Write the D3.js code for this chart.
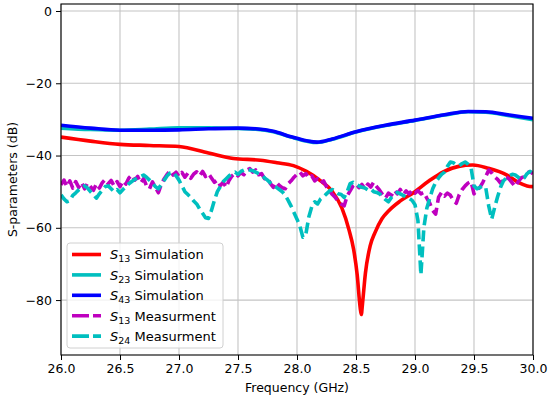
<!DOCTYPE html>
<html><head><meta charset="utf-8">
<script src="https://cdn.jsdelivr.net/npm/d3@7"></script>
<style>body{margin:0;background:#fff}text{font-family:"DejaVu Sans",sans-serif}</style>
</head><body><svg id="c" width="550" height="399"></svg>
<script>
// ---- data ----
const xTicks = [26.0, 26.5, 27.0, 27.5, 28.0, 28.5, 29.0, 29.5, 30.0];
const yTicks = [0, -20, -40, -60, -80];

const simFreqS13 = [26.0,26.25,26.5,26.75,27.0,27.25,27.46,27.69,27.83,27.97,28.08,28.2,28.3,28.38,28.44,28.48,28.51,28.535,28.545,28.555,28.58,28.62,28.66,28.72,28.78,28.87,28.99,29.12,29.24,29.37,29.49,29.62,29.78,29.88,29.95,30.0];
const simS13 = [-34.9,-36.0,-36.9,-37.2,-37.5,-39.3,-40.8,-41.3,-42.0,-42.8,-44.4,-47.0,-50.0,-54.5,-60.5,-66,-73,-82,-84,-81,-72.5,-65,-61.4,-57.5,-55.2,-52.7,-50.2,-47.0,-44.5,-43.0,-42.6,-43.5,-45.4,-47.5,-48.4,-48.6];

const simFreq = [26.0,26.25,26.5,26.75,27.0,27.25,27.5,27.65,27.8,27.95,28.08,28.17,28.3,28.5,28.75,29.0,29.25,29.45,29.6,29.8,30.0];
const simS23 = [-32.4,-32.8,-33.0,-32.7,-32.3,-32.3,-32.5,-32.7,-33.4,-34.9,-36.0,-36.4,-35.5,-33.5,-31.7,-30.3,-28.8,-27.9,-28.0,-29.0,-30.1];
const simS43 = [-31.6,-32.4,-33.0,-33.0,-32.9,-32.6,-32.4,-32.6,-33.3,-34.8,-35.9,-36.3,-35.4,-33.4,-31.6,-30.2,-28.7,-27.8,-27.9,-28.8,-29.7];

const measFreq = [
 26.000,26.025,26.050,26.075,26.100,26.125,26.150,26.175,26.200,26.225,
 26.250,26.275,26.300,26.325,26.350,26.375,26.400,26.425,26.450,26.475,
 26.500,26.525,26.550,26.575,26.600,26.625,26.650,26.675,26.700,26.725,
 26.750,26.775,26.800,26.825,26.850,26.875,26.900,26.925,26.950,26.975,
 27.000,27.025,27.050,27.075,27.100,27.125,27.150,27.175,27.200,27.225,
 27.250,27.275,27.300,27.325,27.350,27.375,27.400,27.425,27.450,27.475,
 27.500,27.525,27.550,27.575,27.600,27.625,27.650,27.675,27.700,27.725,
 27.750,27.775,27.800,27.825,27.850,27.875,27.900,27.925,27.950,27.975,
 28.000,28.025,28.050,28.075,28.100,28.125,28.150,28.175,28.200,28.225,
 28.250,28.275,28.300,28.325,28.350,28.375,28.400,28.425,28.450,28.475,
 28.500,28.525,28.550,28.575,28.600,28.625,28.650,28.675,28.700,28.725,
 28.750,28.775,28.800,28.825,28.850,28.875,28.900,28.925,28.950,28.975,
 29.000,29.025,29.050,29.075,29.100,29.125,29.150,29.175,29.200,29.225,
 29.250,29.275,29.300,29.325,29.350,29.375,29.400,29.425,29.450,29.475,
 29.500,29.525,29.550,29.575,29.600,29.625,29.650,29.675,29.700,29.725,
 29.750,29.775,29.800,29.825,29.850,29.875,29.900,29.925,29.950,29.975,
 30.000];
const measS13 = [
 -48.1,-46.8,-48.6,-47.0,-49.0,-47.2,-48.8,-47.4,-49.2,-47.6,
 -48.6,-49.6,-47.8,-49.0,-47.5,-46.6,-47.8,-46.9,-48.4,-47.2,
 -48.6,-47.0,-47.9,-46.2,-45.4,-46.8,-45.8,-47.6,-46.4,-48.4,
 -49.2,-47.3,-48.8,-50.3,-48.0,-46.4,-45.2,-44.2,-45.4,-44.6,
 -45.8,-44.7,-46.0,-44.9,-46.3,-45.1,-44.5,-45.6,-44.4,-45.8,
 -45.0,-46.2,-47.4,-46.8,-48.3,-47.4,-48.8,-46.8,-45.6,-44.9,
 -45.6,-44.7,-45.3,-44.0,-43.6,-44.6,-44.0,-45.3,-45.0,-46.4,
 -46.0,-47.8,-48.8,-47.4,-48.3,-48.9,-49.2,-47.8,-47.0,-46.0,
 -45.2,-44.6,-45.6,-45.0,-46.2,-45.6,-47.0,-46.4,-47.6,-47.0,
 -48.6,-49.8,-50.8,-51.6,-52.8,-53.4,-53.9,-51.2,-49.8,-48.4,
 -47.8,-48.9,-48.0,-49.2,-47.9,-48.7,-47.4,-48.6,-49.6,-50.8,
 -51.8,-50.4,-51.0,-49.6,-50.6,-49.4,-50.8,-49.8,-50.6,-49.6,
 -50.4,-49.7,-50.6,-50.2,-51.8,-53.2,-55.2,-56.2,-51.5,-50.2,
 -51.2,-50.4,-51.0,-52.4,-53.2,-50.8,-49.4,-48.4,-47.6,-47.2,
 -50.6,-49.6,-48.8,-47.4,-45.8,-44.0,-44.8,-45.9,-46.6,-47.6,
 -46.8,-45.9,-46.6,-47.6,-48.6,-47.2,-46.2,-45.8,-44.8,-44.5,
 -45.0];
const measS24 = [
 -50.9,-52.0,-52.8,-52.5,-51.0,-50.3,-49.5,-48.8,-48.4,-49.0,
 -50.0,-50.8,-51.8,-50.6,-49.6,-48.6,-48.4,-49.2,-50.0,-49.4,
 -50.3,-49.4,-48.6,-47.8,-47.2,-46.6,-46.2,-45.8,-45.4,-46.0,
 -46.8,-47.6,-48.6,-49.2,-48.0,-46.8,-45.6,-44.8,-44.6,-45.6,
 -46.8,-48.4,-50.0,-50.8,-51.6,-52.6,-53.4,-54.8,-56.0,-57.2,
 -57.4,-55.2,-52.4,-50.0,-48.6,-47.2,-46.4,-45.6,-45.0,-44.6,
 -45.2,-44.4,-44.0,-43.8,-44.0,-44.2,-44.6,-45.0,-45.4,-46.2,
 -46.8,-47.6,-48.2,-48.8,-49.4,-50.0,-51.0,-52.4,-54.0,-55.8,
 -57.6,-59.6,-62.6,-61.8,-57.0,-54.2,-52.8,-53.4,-52.0,-51.4,
 -50.6,-49.8,-49.4,-50.0,-50.6,-50.8,-51.6,-50.0,-47.8,-47.4,
 -48.0,-48.4,-48.8,-49.0,-49.5,-49.2,-50.0,-50.2,-50.6,-51.4,
 -52.2,-52.8,-51.6,-50.8,-50.2,-50.6,-51.0,-51.6,-51.8,-52.4,
 -53.6,-58.0,-73.0,-60.0,-54.6,-51.8,-49.2,-47.4,-46.2,-45.2,
 -44.6,-43.0,-41.8,-42.0,-42.6,-42.8,-42.2,-41.8,-42.4,-43.4,
 -48.4,-49.2,-48.8,-48.4,-49.0,-54.0,-57.6,-54.4,-51.4,-48.8,
 -47.0,-46.2,-45.6,-45.2,-45.4,-46.0,-46.6,-46.2,-45.0,-44.4,
 -45.0];

// ---- chart ----
const svg = d3.select("#c");
const L = 61, R = 533, T = 4, B = 355;
const x = d3.scaleLinear().domain([26, 30]).range([L, R]);
const y = d3.scaleLinear().domain([-95.2, 1.94]).range([B, T]);

const g = svg.append("g");
g.selectAll(".gx").data(xTicks).enter().append("line")
  .attr("x1", d => x(d)).attr("x2", d => x(d)).attr("y1", T).attr("y2", B)
  .attr("stroke", "#c4c4c4").attr("stroke-width", 1.1);
g.selectAll(".gy").data(yTicks).enter().append("line")
  .attr("y1", d => y(d)).attr("y2", d => y(d)).attr("x1", L).attr("x2", R)
  .attr("stroke", "#c4c4c4").attr("stroke-width", 1.1);

svg.append("clipPath").attr("id", "cp").append("rect")
  .attr("x", L).attr("y", T).attr("width", R - L).attr("height", B - T);

const line = d3.line().x(d => x(d[0])).y(d => y(d[1])).curve(d3.curveMonotoneX);
const lineLin = d3.line().x(d => x(d[0])).y(d => y(d[1]));
const zip = (a, b) => a.map((v, i) => [v, b[i]]);

const series = [
  {name: "13", label: " Simulation", color: "#ff0000", data: zip(simFreqS13, simS13), dash: null, gen: line},
  {name: "23", label: " Simulation", color: "#00bfbf", data: zip(simFreq, simS23), dash: null, gen: line},
  {name: "43", label: " Simulation", color: "#0000ff", data: zip(simFreq, simS43), dash: null, gen: line},
  {name: "13", label: " Measurment", color: "#bf00bf", data: zip(measFreq, measS13), dash: "11,5", gen: lineLin},
  {name: "24", label: " Measurment", color: "#00bfbf", data: zip(measFreq, measS24), dash: "11,5", gen: lineLin}
];

const pg = svg.append("g").attr("clip-path", "url(#cp)");
series.forEach(s => {
  pg.append("path").attr("d", s.gen(s.data)).attr("fill", "none")
    .attr("stroke", s.color).attr("stroke-width", 3.6)
    .attr("stroke-dasharray", s.dash)
    .attr("stroke-linejoin", "round");
});

const xAxis = d3.axisBottom(x).tickValues(xTicks).tickFormat(d3.format(".1f")).tickSizeOuter(0).tickSize(5).tickPadding(4);
const yAxis = d3.axisLeft(y).tickValues(yTicks).tickFormat(d => d < 0 ? "\u2212" + Math.abs(d) : d).tickSizeOuter(0).tickSize(5).tickPadding(4);
const gx = svg.append("g").attr("transform", `translate(0,${B})`).call(xAxis);
const gy = svg.append("g").attr("transform", `translate(${L},0)`).call(yAxis);
[gx, gy].forEach(a => {
  a.selectAll("text").attr("font-size", 12.5).attr("fill", "#000").style("font-family", "DejaVu Sans");
  a.select(".domain").remove();
  a.selectAll(".tick line").attr("stroke", "#000").attr("stroke-width", 1);
});
svg.append("rect").attr("x", L).attr("y", T).attr("width", R - L).attr("height", B - T)
  .attr("fill", "none").attr("stroke", "#000").attr("stroke-width", 1.1);

svg.append("text").attr("x", (L + R) / 2).attr("y", 392).attr("text-anchor", "middle")
  .attr("font-size", 12.5).text("Frequency (GHz)");
svg.append("text").attr("transform", `translate(17,${(T + B) / 2}) rotate(-90)`).attr("text-anchor", "middle")
  .attr("font-size", 12.5).text("S-parameters (dB)");

// legend
const lg = svg.append("g");
lg.append("rect").attr("x", 67).attr("y", 243).attr("width", 156).attr("height", 105)
  .attr("rx", 3).attr("fill", "#fff").attr("fill-opacity", 0.8).attr("stroke", "#d0d0d0");
series.forEach((s, i) => {
  const yy = 254.5 + i * 20.4;
  lg.append("line").attr("x1", 72).attr("x2", 101).attr("y1", yy).attr("y2", yy)
    .attr("stroke", s.color).attr("stroke-width", 3.6).attr("stroke-dasharray", s.dash ? "17,4" : null);
  const t = lg.append("text").attr("x", 110).attr("y", yy + 4.8).attr("font-size", 13);
  t.append("tspan").attr("font-style", "italic").text("S");
  t.append("tspan").attr("font-size", 9.5).attr("dy", 3).text(s.name);
  t.append("tspan").attr("dy", -3).text(s.label);
});
</script></body></html>
